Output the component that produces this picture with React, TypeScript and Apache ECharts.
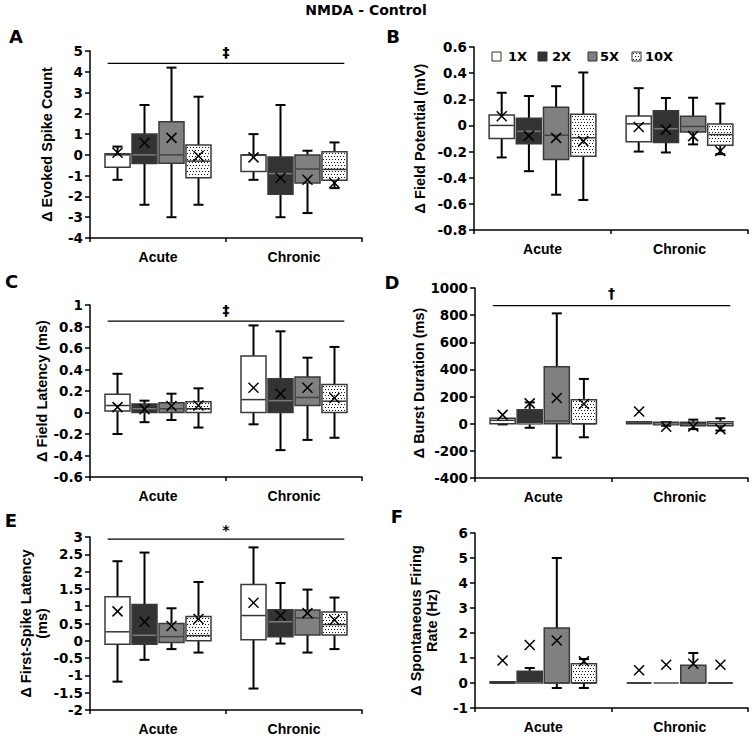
import React, { useEffect, useRef } from 'react';
import * as echarts from 'echarts';

const categories = ['Acute', 'Chronic'];
const doses = ['1X', '2X', '5X', '10X'];

// Each row: [min, q1, median, q3, max, mean]
// Order: Acute 1X, 2X, 5X, 10X, then Chronic 1X, 2X, 5X, 10X
const evokedSpikeCount = [
  [-1.2, -0.6, 0, 0.05, 0.4, 0.1],
  [-2.4, -0.42, 0, 1.0, 2.4, 0.58],
  [-3.0, -0.4, 0, 1.6, 4.2, 0.82],
  [-2.4, -1.1, -0.3, 0.47, 2.8, -0.05],
  [-1.2, -0.8, 0, 0, 1.0, -0.12],
  [-3.0, -1.9, -0.9, -0.1, 2.4, -1.1],
  [-2.8, -1.35, -0.68, 0, 0.2, -1.2],
  [-1.6, -1.22, -0.7, 0.15, 0.6, -1.35],
];
const fieldPotential = [
  [-0.245, -0.1, 0, 0.08, 0.25, 0.07],
  [-0.35, -0.14, -0.045, 0.055, 0.225, -0.08],
  [-0.53, -0.26, -0.075, 0.14, 0.3, -0.095],
  [-0.57, -0.235, -0.095, 0.085, 0.405, -0.12],
  [-0.2, -0.125, 0.012, 0.072, 0.285, -0.012],
  [-0.207, -0.13, -0.025, 0.112, 0.21, -0.032],
  [-0.145, -0.05, -0.008, 0.07, 0.212, -0.082],
  [-0.22, -0.152, -0.07, 0.01, 0.167, -0.195],
];
const fieldLatency = [
  [-0.2, 0.015, 0.065, 0.17, 0.36, 0.05],
  [-0.09, 0, 0.035, 0.08, 0.11, 0.03],
  [-0.07, 0, 0.035, 0.09, 0.175, 0.06],
  [-0.14, 0, 0.035, 0.1, 0.225, 0.065],
  [-0.11, 0, 0.12, 0.525, 0.81, 0.23],
  [-0.35, 0, 0.11, 0.315, 0.755, 0.175],
  [-0.255, 0.065, 0.14, 0.33, 0.51, 0.23],
  [-0.235, 0, 0.105, 0.26, 0.61, 0.135],
];
const burstDuration = [
  [-5, 0, 25, 40, 40, 65],
  [-30, 0, 0, 103, 157, 150],
  [-250, 0, 20, 420, 813, 190],
  [-100, 0, 0, 177, 330, 145],
  [0, 0, 5, 15, 15, 90],
  [-15, -8, 0, 10, 12, -22],
  [-40, -15, 0, 10, 30, -20],
  [-50, -15, 0, 15, 40, -40],
];
const firstSpikeLatency = [
  [-1.18, -0.1, 0.26, 1.27, 2.3, 0.85],
  [-0.55, -0.1, 0.16, 1.05, 2.55, 0.55],
  [-0.24, -0.05, 0.12, 0.5, 0.94, 0.43],
  [-0.34, 0, 0.15, 0.7, 1.7, 0.63],
  [-1.38, 0.03, 0.73, 1.63, 2.7, 1.1],
  [-0.08, 0.12, 0.55, 0.9, 1.67, 0.73],
  [-0.34, 0.17, 0.66, 0.89, 1.48, 0.8],
  [-0.24, 0.17, 0.47, 0.83, 1.25, 0.6],
];
const spontaneousRate = [
  [0, 0, 0, 0.05, 0.05, 0.9],
  [0, 0, 0, 0.47, 0.6, 1.52],
  [-0.2, 0, 0, 2.2, 5.0, 1.7],
  [-0.2, 0, 0, 0.77, 0.96, 0.87],
  [0, 0, 0, 0, 0, 0.51],
  [0, 0, 0, 0, 0, 0.73],
  [0, 0, 0, 0.71, 1.2, 0.77],
  [0, 0, 0, 0, 0, 0.73],
];

const panelData = [evokedSpikeCount, fieldPotential, fieldLatency, burstDuration, firstSpikeLatency, spontaneousRate];
const panelLetters = ['A', 'B', 'C', 'D', 'E', 'F'];
const axisNames = [
  'Δ Evoked Spike Count',
  'Δ Field Potential (mV)',
  'Δ Field Latency (ms)',
  'Δ Burst Duration (ms)',
  'Δ First-Spike Latency\n(ms)',
  'Δ Spontaneous Firing\nRate (Hz)',
];
const yMins = [-4, -0.8, -0.6, -400, -2, -1];
const yMaxs = [5, 0.6, 1, 1000, 3, 6];
const yIntervals = [1, 0.2, 0.2, 200, 0.5, 1];

// significance bars
const sigPanels = [0, 2, 3, 4];
const sigLineValues = [4.4, 0.85, 870, 2.94];
const sigSymbolValues = [4.95, 0.955, 963, 3.2];
const sigSymbols = ['‡', '‡', '†', '*'];

const title = 'NMDA - Control';

// layout
const gridLayouts = [
  { left: 90, top: 51, width: 272, height: 187 },
  { left: 474, top: 47, width: 274, height: 183 },
  { left: 90, top: 305, width: 272, height: 172 },
  { left: 475, top: 288, width: 273, height: 190 },
  { left: 90, top: 537, width: 272, height: 173 },
  { left: 475, top: 533, width: 273, height: 175 },
];
const nameGaps = [35, 46, 35, 48, 40, 35];
const letterPos = [[16, 36], [393, 36.5], [11.5, 281.5], [392, 282.5], [11, 520], [397, 516]];

const boxFills = ['#ffffff', '#333333', '#808080', '#ffffff'];
const medianColors = ['#333333', '#7a7a7a', '#444444', '#333333'];
const BOX_STROKE = '#3a3a3a';
const TICK_FONT = 'DejaVu Sans';
const NAME_FONT = 'Liberation Sans';

function dotRects(x0: number, y0: number, w: number, h: number) {
  const out: any[] = [];
  const left = Math.ceil(x0 + 1);
  const right = x0 + w - 1;
  const top = Math.ceil(y0 + 1);
  const bottom = y0 + h - 1;
  let row = 0;
  for (let y = top; y + 1 <= bottom; y += 3) {
    const off = row % 2 === 1 ? 1.5 : 0;
    for (let x = left + off; x + 1 <= right; x += 3) {
      out.push({
        type: 'rect',
        silent: true,
        shape: { x: Math.round(x), y, width: 1, height: 1 },
        style: { fill: '#111' },
      });
    }
    row++;
  }
  return out;
}

function makeBoxRenderer(d: number) {
  return (params: any, api: any) => {
    const ci = api.value(0);
    const mn = api.value(1), q1 = api.value(2), med = api.value(3);
    const q3 = api.value(4), mx = api.value(5), mean = api.value(6);
    const base = api.coord([ci, 0]);
    const band = api.size([1, 0])[0];
    const cx = base[0] + (d - 1.5) * band * 0.1985;
    const w = band * 0.184;
    const Y = (v: number) => api.coord([ci, v])[1];
    const yMn = Y(mn), yQ1 = Y(q1), yMed = Y(med), yQ3 = Y(q3), yMx = Y(mx), yMean = Y(mean);
    const children: any[] = [];
    const ws = { stroke: '#000', lineWidth: 2 };
    const cap = 5;
    if (mx > q3) {
      children.push({ type: 'line', shape: { x1: cx, y1: yMx, x2: cx, y2: yQ3 }, style: ws });
      children.push({ type: 'line', shape: { x1: cx - cap, y1: yMx, x2: cx + cap, y2: yMx }, style: ws });
    }
    if (mn < q1) {
      children.push({ type: 'line', shape: { x1: cx, y1: yMn, x2: cx, y2: yQ1 }, style: ws });
      children.push({ type: 'line', shape: { x1: cx - cap, y1: yMn, x2: cx + cap, y2: yMn }, style: ws });
    }
    children.push({
      type: 'rect',
      shape: { x: cx - w / 2, y: yQ3, width: w, height: yQ1 - yQ3 },
      style: { fill: boxFills[d], stroke: BOX_STROKE, lineWidth: 1.5 },
    });
    if (d === 3 && yQ1 - yQ3 > 3) {
      children.push(...dotRects(cx - w / 2, yQ3, w, yQ1 - yQ3));
    }
    children.push({
      type: 'line',
      shape: { x1: cx - w / 2 + 0.75, y1: yMed, x2: cx + w / 2 - 0.75, y2: yMed },
      style: { stroke: medianColors[d], lineWidth: 1.5 },
    });
    const s = 5;
    const xs = { stroke: '#000', lineWidth: 1.5 };
    children.push({ type: 'line', shape: { x1: cx - s, y1: yMean - s, x2: cx + s, y2: yMean + s }, style: xs });
    children.push({ type: 'line', shape: { x1: cx - s, y1: yMean + s, x2: cx + s, y2: yMean - s }, style: xs });
    return { type: 'group', children };
  };
}

function makeSigRenderer(sym: string) {
  return (params: any, api: any) => {
    const lv = api.value(1);
    const sv = api.value(2);
    const c0 = api.coord([0, lv]);
    const c1 = api.coord([1, lv]);
    const band = api.size([1, 0])[0];
    const mid = (c0[0] + c1[0]) / 2;
    const sy = api.coord([0, sv])[1];
    return {
      type: 'group',
      children: [
        {
          type: 'line',
          shape: { x1: c0[0] - 0.37 * band, y1: c0[1], x2: c1[0] + 0.37 * band, y2: c1[1] },
          style: { stroke: '#000', lineWidth: 1.3 },
        },
        {
          type: 'text',
          x: mid,
          y: sy,
          style: {
            text: sym,
            fill: '#000',
            fontFamily: TICK_FONT,
            fontWeight: 'bold',
            fontSize: 14,
            align: 'center',
            verticalAlign: 'middle',
            textAlign: 'center',
            textVerticalAlign: 'middle',
          },
        },
      ],
    };
  };
}

function fmt(v: number) {
  return String(parseFloat(v.toFixed(3)));
}

function buildOption() {
  const grid = gridLayouts.map((g) => ({ ...g, containLabel: false, outerBoundsMode: 'none' }));
  const xAxis = panelData.map((_, p) => ({
    type: 'category',
    gridIndex: p,
    data: categories,
    boundaryGap: true,
    axisLine: { show: true, onZero: false, lineStyle: { color: '#000', width: 1.5 } },
    axisTick: { show: true, length: 4, inside: false, lineStyle: { color: '#000', width: 1.5 } },
    axisLabel: { color: '#000', fontFamily: NAME_FONT, fontWeight: 'bold', fontSize: 14, margin: 12 },
    splitLine: { show: false },
  }));
  const yAxis = panelData.map((_, p) => ({
    type: 'value',
    gridIndex: p,
    min: yMins[p],
    max: yMaxs[p],
    interval: yIntervals[p],
    name: axisNames[p],
    nameLocation: 'middle',
    nameGap: nameGaps[p],
    nameTextStyle: { color: '#000', fontFamily: NAME_FONT, fontWeight: 'bold', fontSize: 14.5, lineHeight: 16 },
    axisLine: { show: true, onZero: false, lineStyle: { color: '#000', width: 1.5 } },
    axisTick: { show: true, length: 5, inside: false, lineStyle: { color: '#000', width: 1.5 } },
    axisLabel: { color: '#000', fontFamily: TICK_FONT, fontWeight: 'bold', fontSize: 13.5, margin: 7, formatter: fmt },
    splitLine: { show: false },
  }));
  const series: any[] = [];
  panelData.forEach((rows, p) => {
    doses.forEach((dose, d) => {
      series.push({
        type: 'custom',
        name: dose,
        xAxisIndex: p,
        yAxisIndex: p,
        renderItem: makeBoxRenderer(d),
        encode: { x: 0, y: [1, 2, 3, 4, 5, 6] },
        data: categories.map((_, ci) => [ci, ...rows[ci * 4 + d]]),
        clip: false,
        silent: true,
      });
    });
  });
  sigPanels.forEach((p, i) => {
    series.push({
      type: 'custom',
      xAxisIndex: p,
      yAxisIndex: p,
      renderItem: makeSigRenderer(sigSymbols[i]),
      encode: { x: 0, y: [1, 2] },
      data: [[0, sigLineValues[i], sigSymbolValues[i]]],
      clip: false,
      silent: true,
      z: 5,
    });
  });

  const graphic: any[] = [];
  graphic.push({
    type: 'text',
    x: 366,
    y: 10,
    style: {
      text: title, fill: '#000', fontFamily: TICK_FONT, fontWeight: 'bold', fontSize: 14,
      textAlign: 'center', textVerticalAlign: 'middle', align: 'center', verticalAlign: 'middle',
    },
  });
  panelLetters.forEach((L, i) => {
    graphic.push({
      type: 'text',
      x: letterPos[i][0],
      y: letterPos[i][1],
      style: {
        text: L, fill: '#000', fontFamily: TICK_FONT, fontWeight: 'bold', fontSize: 18,
        textAlign: 'center', textVerticalAlign: 'middle', align: 'center', verticalAlign: 'middle',
      },
    });
  });
  // legend
  const legendSquareX = [492, 538, 588, 632];
  const legendTextX = [508, 552, 600, 645];
  const legendY = 52;
  doses.forEach((dose, d) => {
    graphic.push({
      type: 'rect',
      shape: { x: legendSquareX[d], y: legendY, width: 9, height: 9 },
      style: { fill: boxFills[d], stroke: '#333', lineWidth: 1 },
    });
    if (d === 3) {
      dotRects(legendSquareX[d] - 0.5, legendY - 0.5, 10, 10).forEach((r) => graphic.push(r));
    }
    graphic.push({
      type: 'text',
      x: legendTextX[d],
      y: legendY + 4.5,
      style: {
        text: dose, fill: '#000', fontFamily: TICK_FONT, fontWeight: 'bold', fontSize: 13,
        textAlign: 'left', textVerticalAlign: 'middle', align: 'left', verticalAlign: 'middle',
      },
    });
  });

  return {
    animation: false,
    backgroundColor: '#ffffff',
    grid,
    xAxis,
    yAxis,
    series,
    graphic,
  };
}

export default function App() {
  const ref = useRef<HTMLDivElement>(null);
  useEffect(() => {
    if (!ref.current) return;
    const chart = echarts.init(ref.current, undefined, { renderer: 'svg' });
    chart.setOption(buildOption() as any);
    return () => chart.dispose();
  }, []);
  return (
    <div
      ref={ref}
      style={{ position: 'fixed', left: 0, top: 0, width: 755, height: 736, background: '#fff' }}
    />
  );
}
